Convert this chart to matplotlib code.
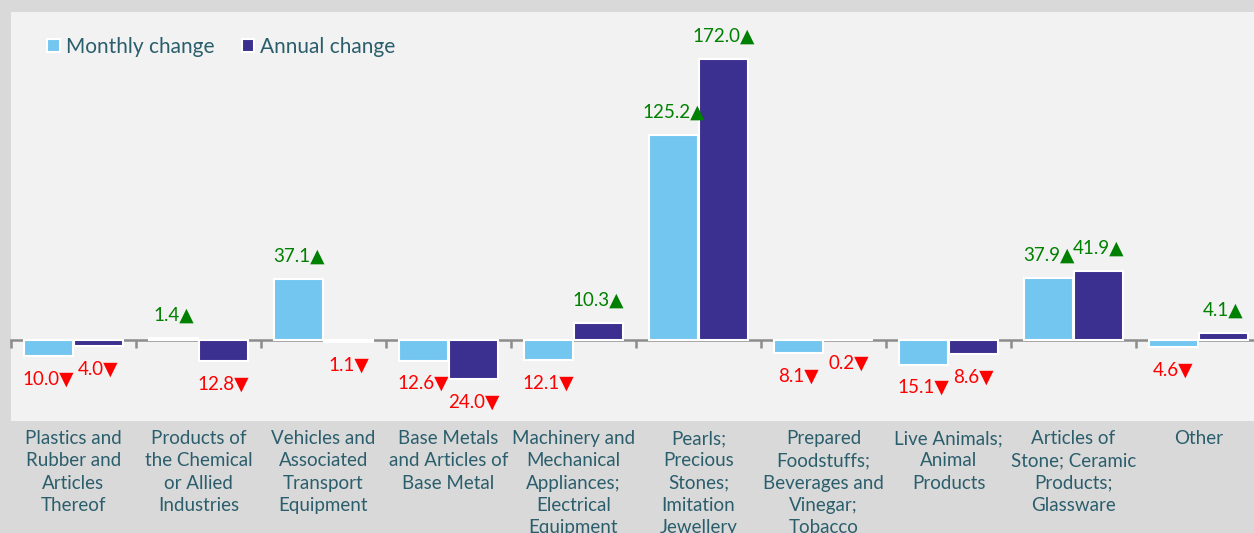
import matplotlib.pyplot as plt
import matplotlib.transforms as mtransforms
import numpy as np

categories = [
    "Plastics and\nRubber and\nArticles\nThereof",
    "Products of\nthe Chemical\nor Allied\nIndustries",
    "Vehicles and\nAssociated\nTransport\nEquipment",
    "Base Metals\nand Articles of\nBase Metal",
    "Machinery and\nMechanical\nAppliances;\nElectrical\nEquipment",
    "Pearls;\nPrecious\nStones;\nImitation\nJewellery",
    "Prepared\nFoodstuffs;\nBeverages and\nVinegar;\nTobacco",
    "Live Animals;\nAnimal\nProducts",
    "Articles of\nStone; Ceramic\nProducts;\nGlassware",
    "Other",
]
monthly = [-10.0, 1.4, 37.1, -12.6, -12.1, 125.2, -8.1, -15.1, 37.9, -4.6]
annual = [-4.0, -12.8, -1.1, -24.0, 10.3, 172.0, -0.2, -8.6, 41.9, 4.1]

c_month = "#72c6ef"
c_year = "#3b2f8f"
c_text = "#2b5e6c"

plt.rcParams['font.family'] = ['Lato', 'DejaVu Sans']

fig = plt.figure(figsize=(12.54, 5.33), dpi=100, facecolor="#d9d9d9")
ax = fig.add_axes([11 / 1254, 1 - 421 / 533, 1250 / 1254, 409 / 533])
ax.set_facecolor("#f2f2f2")

x = np.arange(len(categories))
w = 0.39
b1 = ax.bar(x - 0.2, monthly, w, color=c_month, edgecolor="white", linewidth=1.5, label="Monthly change", zorder=3)
b2 = ax.bar(x + 0.2, annual, w, color=c_year, edgecolor="white", linewidth=1.5, label="Annual change", zorder=3)

# value labels with arrows
for bars, vals in ((b1, monthly), (b2, annual)):
    for r, v in zip(bars, vals):
        up = v >= 0
        txt = f"{abs(v):.1f}" + ("\u25b2" if up else "\u25bc")
        ax.annotate(txt, (r.get_x() + r.get_width() / 2, v),
                    xytext=(0, 23 if up else -23), textcoords="offset pixels",
                    ha="center", va="center", fontsize=13.5,
                    color="#008000" if up else "#ff0000", zorder=4)

ax.set_xlim(-0.5, len(categories) - 0.5)
ax.set_ylim(-49.6, 200.7)

# zero line with boundary ticks
for s in ("top", "right", "left"):
    ax.spines[s].set_visible(False)
ax.spines["bottom"].set_position(("data", 0))
ax.spines["bottom"].set_color("#8c8c8c")
ax.spines["bottom"].set_linewidth(1.8)
ax.spines["bottom"].set_zorder(2)
ax.set_xticks(np.arange(-0.5, len(categories), 1.0))
ax.set_xticklabels([])
ax.tick_params(axis="x", length=6, width=1.8, color="#8c8c8c", direction="out")
ax.set_yticks([])

# category labels (the longest ones run past the bottom edge, as in the source)
trans = mtransforms.blended_transform_factory(ax.transData, ax.transAxes)
for xi, lab in zip(x, categories):
    ax.text(xi, -0.022, lab, transform=trans, ha="center", va="top",
            fontsize=13.5, color=c_text, linespacing=1.38, clip_on=False)

ax.legend(loc="upper left", bbox_to_anchor=(0.014, 0.985), ncol=2, frameon=False,
          fontsize=15, labelcolor=c_text, handlelength=0.6, handleheight=0.6,
          handletextpad=0.3, columnspacing=1.3)

fig.savefig("out.png", dpi=100, facecolor=fig.get_facecolor())
